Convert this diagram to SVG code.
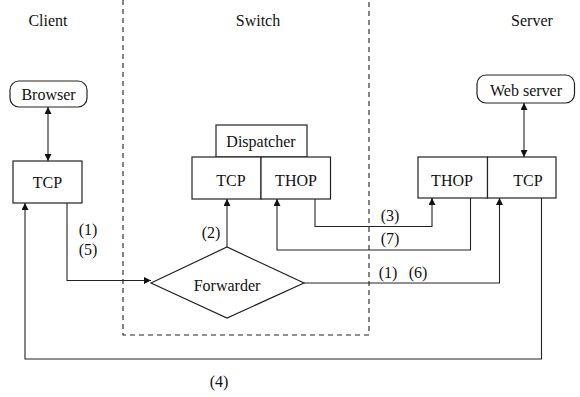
<svg xmlns="http://www.w3.org/2000/svg" width="580" height="397" viewBox="0 0 580 397">
  <style>
    text { font-family: "Liberation Serif", "Times New Roman", serif !important; font-size: 16px; fill: #111; }
    .mid { text-anchor: middle; }
    .box { fill: #fff; stroke: #222; stroke-width: 1.2; }
    .wire { fill: none; stroke: #222; stroke-width: 1.1; }
    .zone { fill: none; stroke: #222; stroke-width: 1.1; stroke-dasharray: 5 4; }
  </style>
  <defs>
    <marker id="arrow" viewBox="0 0 10 10" refX="10" refY="5" markerWidth="10" markerHeight="7" markerUnits="userSpaceOnUse" orient="auto-start-reverse">
      <path d="M0,0 L10,5 L0,10 z" fill="#111"/>
    </marker>
  </defs>

  <rect width="580" height="397" fill="#fff"/>

  <!-- switch boundary -->
  <path class="zone" d="M123,0 V335 H369 V0"/>

  <!-- column headings -->
  <text class="mid" x="48" y="26">Client</text>
  <text class="mid" x="258" y="26">Switch</text>
  <text class="mid" x="532" y="26">Server</text>

  <g id="browser">
    <rect class="box" x="10" y="81" width="77" height="26" rx="9"/>
    <text class="mid" x="48.5" y="100">Browser</text>
  </g>
  <g id="client-tcp">
    <rect class="box" x="13" y="161" width="69" height="42"/>
    <text class="mid" x="47.5" y="188">TCP</text>
  </g>

  <g id="dispatcher">
    <rect class="box" x="216" y="125" width="91" height="32"/>
    <text class="mid" x="261" y="147">Dispatcher</text>
  </g>
  <g id="switch-tcp">
    <rect class="box" x="192" y="157" width="69" height="42"/>
    <text class="mid" x="231" y="186">TCP</text>
  </g>
  <g id="switch-thop">
    <rect class="box" x="261" y="157" width="69.5" height="42"/>
    <text class="mid" x="296" y="186">THOP</text>
  </g>
  <g id="forwarder">
    <polygon class="box" points="151,283 227,247 304,283 227,318"/>
    <text class="mid" x="227" y="291">Forwarder</text>
  </g>

  <g id="web-server">
    <rect class="box" x="477" y="75" width="97.5" height="28" rx="9"/>
    <text class="mid" x="526" y="96">Web server</text>
  </g>
  <g id="server-thop">
    <rect class="box" x="418" y="157" width="69.5" height="41"/>
    <text class="mid" x="452" y="186">THOP</text>
  </g>
  <g id="server-tcp">
    <rect class="box" x="487.5" y="157" width="68.5" height="41"/>
    <text class="mid" x="528" y="186">TCP</text>
  </g>

  <g id="connectors">
    <path class="wire" d="M48,107 V161" marker-start="url(#arrow)" marker-end="url(#arrow)"/>
    <path class="wire" d="M524,103 V157" marker-start="url(#arrow)" marker-end="url(#arrow)"/>
    <!-- (1)(5) client to forwarder -->
    <path class="wire" d="M67,203 V280.5 H151" marker-end="url(#arrow)"/>
    <!-- (2) forwarder to dispatcher tcp -->
    <path class="wire" d="M227,247 V199" marker-end="url(#arrow)"/>
    <!-- (3) switch thop to server thop -->
    <path class="wire" d="M315,199 V226.5 H432 V198" marker-end="url(#arrow)"/>
    <!-- (7) server thop back to switch thop -->
    <path class="wire" d="M470.5,198 V250 H277 V199" marker-end="url(#arrow)"/>
    <!-- (1)(6) forwarder to server tcp -->
    <path class="wire" d="M304,283 H499.5 V198" marker-end="url(#arrow)"/>
    <!-- (4) server tcp back to client tcp -->
    <path class="wire" d="M541.5,198 V359 H25 V203" marker-end="url(#arrow)"/>
  </g>

  <g id="labels">
    <text class="mid" x="88" y="235">(1)</text>
    <text class="mid" x="88" y="255">(5)</text>
    <text class="mid" x="211" y="238">(2)</text>
    <text class="mid" x="390" y="221">(3)</text>
    <text class="mid" x="390" y="244">(7)</text>
    <text class="mid" x="388" y="278">(1)</text>
    <text class="mid" x="418" y="278">(6)</text>
    <text class="mid" x="219" y="387">(4)</text>
  </g>
</svg>
